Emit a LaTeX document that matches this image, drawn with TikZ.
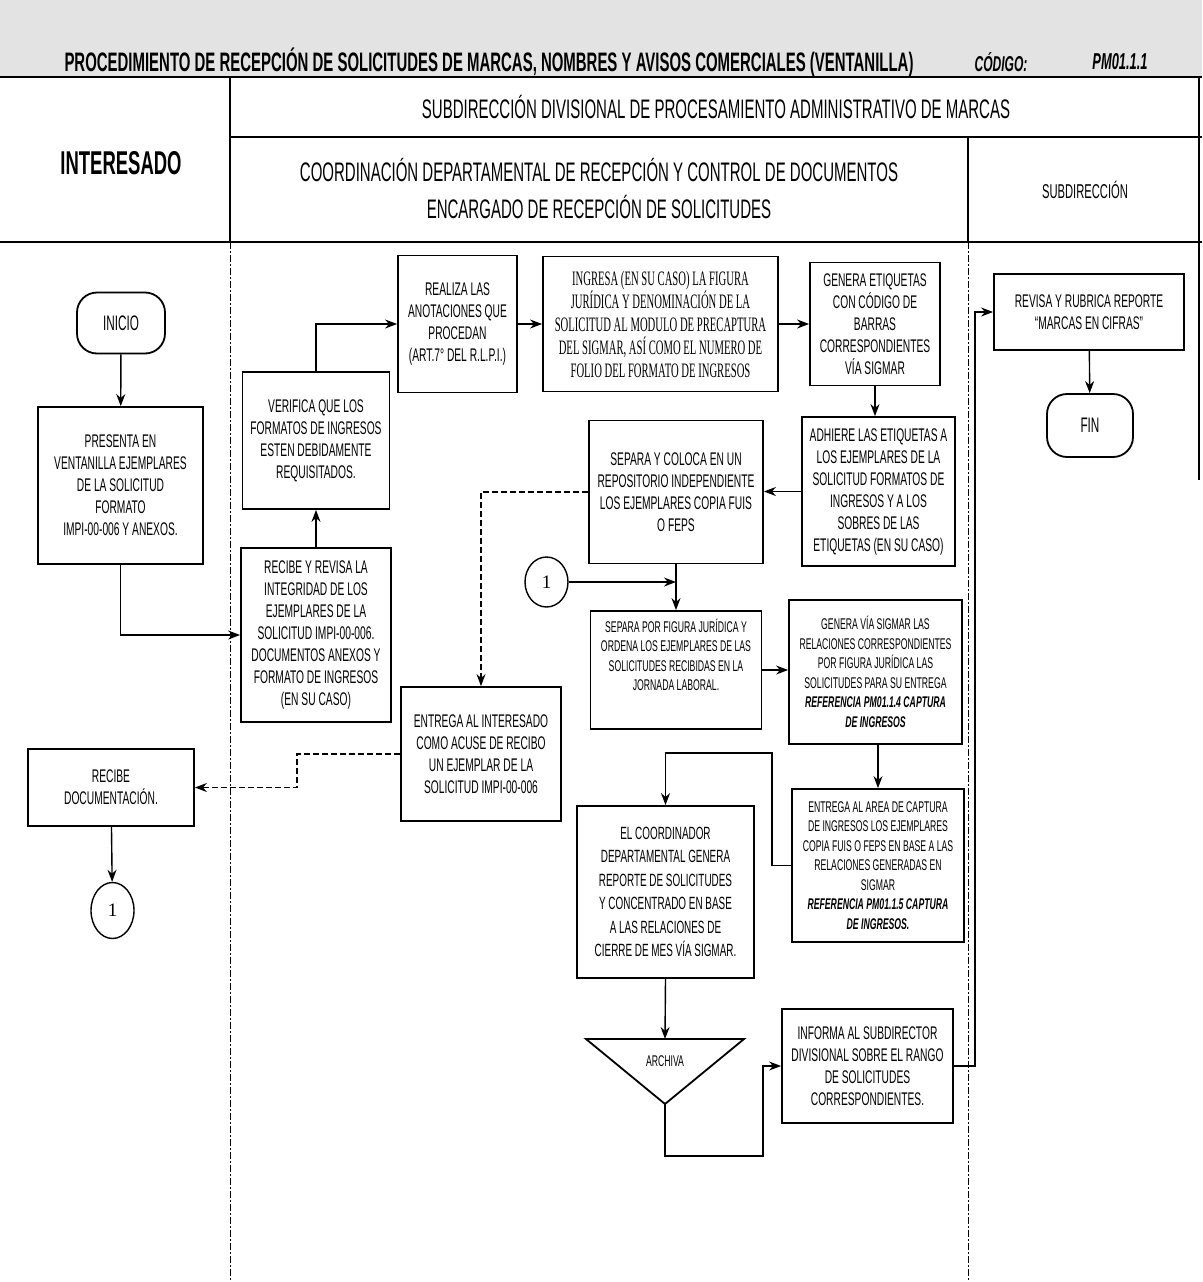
\documentclass[tikz,border=0pt]{standalone}
\usepackage{fontspec}
\setmainfont{Liberation Sans}[FakeStretch=0.56]
\newfontfamily\serifn{Liberation Serif}[FakeStretch=0.52]
\newfontfamily\numfont{Liberation Serif}
\usetikzlibrary{shapes.geometric, arrows.meta, positioning}
\tikzstyle{arrow} = [line width=1.4pt,-{Stealth[length=12pt,width=9pt]}]
\tikzstyle{dasharrow} = [arrow, dash pattern=on 6pt off 3pt]
\tikzstyle{lane} = [line width=0.9pt, dash pattern=on 7pt off 2pt on 2pt off 2pt]
\tikzstyle{proceso} = [
rectangle, draw=black, line width=1.8pt, align=center, inner sep=3pt,
font=\fontsize{18.3}{22}\selectfont
]
\tikzstyle{proceso_S} = [proceso, font=\fontsize{15.5}{19.5}\selectfont]
\tikzstyle{terminal} = [
rectangle, rounded corners=20pt, draw=black, line width=1.8pt,
font=\fontsize{21}{21}\selectfont
]
\tikzstyle{conector} = [
ellipse, draw=black, line width=1.4pt, inner sep=0pt,
minimum width=43, minimum height=56, font=\numfont\fontsize{19}{19}\selectfont
]
\tikzstyle{encabezado} = [align=center, font=\fontsize{26.8}{37}\selectfont]

\begin{document}
\begin{tikzpicture}[x=1pt, y=1pt]
	\useasboundingbox (0,0) rectangle (1202,-1282);
	% Encabezado
	\fill[gray!22] (0,0) rectangle (1202,-76);
	\draw[line width=2pt] (0,-77) -- (1202,-77);
	\draw[line width=1.6pt] (230,-137) -- (1202,-137);
	\draw[line width=2pt] (0,-242) -- (1202,-242);
	\draw[line width=1.3pt] (230,-77) -- (230,-242);
	\draw[line width=1.3pt] (968,-137) -- (968,-242);
	\draw[line width=1.6pt] (1199,-77) -- (1199,-480);
	\draw[lane] (230,-242) -- (230,-1282);
	\draw[lane] (968,-242) -- (968,-1282);

	\node (Titulo) at (489,-62) [font=\bfseries\fontsize{26.7}{26.7}\selectfont] {PROCEDIMIENTO DE RECEPCIÓN DE SOLICITUDES DE MARCAS, NOMBRES Y AVISOS COMERCIALES (VENTANILLA)};
	\node (Codigo) at (1001,-62) [font=\bfseries\itshape\fontsize{21.5}{21.5}\selectfont] {CÓDIGO:};
	\node (Clave) at (1120,-62) [font=\bfseries\itshape\fontsize{23}{23}\selectfont] {PM01.1.1};
	\node (Interesado) at (121,-163) [font=\bfseries\fontsize{33}{33}\selectfont] {INTERESADO};
	\node (Subdir_div) at (716,-107) [encabezado] {SUBDIRECCIÓN DIVISIONAL DE PROCESAMIENTO ADMINISTRATIVO DE MARCAS};
	\node (Coordinacion) at (599,-189) [encabezado] {COORDINACIÓN DEPARTAMENTAL DE RECEPCIÓN Y CONTROL DE DOCUMENTOS\\ENCARGADO DE RECEPCIÓN DE SOLICITUDES};
	\node (Subdir) at (1085,-190) [font=\fontsize{20}{20}\selectfont] {SUBDIRECCIÓN};

	% Actividades
	\node (Inicio) [terminal, minimum width=88, minimum height=61] at (121,-323) {INICIO};
	\node (Presenta) [proceso, minimum width=165, minimum height=157] at (120.5,-485.5) {PRESENTA EN\\VENTANILLA EJEMPLARES\\DE LA SOLICITUD\\FORMATO\\IMPI-00-006 Y ANEXOS.};
	\node (Recibe_revisa) [proceso, minimum width=150, minimum height=174] at (316,-635) {RECIBE Y REVISA LA\\INTEGRIDAD DE LOS\\EJEMPLARES DE LA\\SOLICITUD IMPI-00-006.\\DOCUMENTOS ANEXOS Y\\FORMATO DE INGRESOS\\(EN SU CASO)};
	\node (Verifica) [proceso, minimum width=147, minimum height=137] at (316,-440.5) {VERIFICA QUE LOS\\FORMATOS DE INGRESOS\\ESTEN DEBIDAMENTE\\REQUISITADOS.};
	\node (Realiza) [proceso, minimum width=119, minimum height=137] at (457.5,-324) {REALIZA LAS\\ANOTACIONES QUE\\PROCEDAN\\(ART.7° DEL R.L.P.I.)};
	\node (Ingresa) [proceso, minimum width=235, minimum height=135, font=\serifn\fontsize{20.5}{23}\selectfont] at (660.5,-324) {INGRESA (EN SU CASO) LA FIGURA\\JURÍDICA Y DENOMINACIÓN DE LA\\SOLICITUD AL MODULO DE PRECAPTURA\\DEL SIGMAR, ASÍ COMO EL NUMERO DE\\FOLIO DEL FORMATO DE INGRESOS};
	\node (Genera_etiq) [proceso, minimum width=130, minimum height=123] at (875,-324) {GENERA ETIQUETAS\\CON CÓDIGO DE\\BARRAS\\CORRESPONDIENTES\\VÍA SIGMAR};
	\node (Adhiere) [proceso, minimum width=153, minimum height=149] at (878.5,-491.5) {ADHIERE LAS ETIQUETAS A\\LOS EJEMPLARES DE LA\\SOLICITUD FORMATOS DE\\INGRESOS Y A LOS\\SOBRES DE LAS\\ETIQUETAS (EN SU CASO)};
	\node (Separa_coloca) [proceso, minimum width=174, minimum height=143] at (676,-492) {SEPARA Y COLOCA EN UN\\REPOSITORIO INDEPENDIENTE\\LOS EJEMPLARES COPIA FUIS\\O FEPS};
	\node (Separa_figura) [proceso_S, minimum width=171, minimum height=118, text depth=30pt] at (676,-670) {SEPARA POR FIGURA JURÍDICA Y\\ORDENA LOS EJEMPLARES DE LAS\\SOLICITUDES RECIBIDAS EN LA\\JORNADA LABORAL.};
	\node (Genera_sigmar) [proceso_S, minimum width=173, minimum height=144] at (875.5,-672) {GENERA VÍA SIGMAR LAS\\RELACIONES CORRESPONDIENTES\\POR FIGURA JURÍDICA LAS\\SOLICITUDES PARA SU ENTREGA\\{\bfseries\itshape REFERENCIA PM01.1.4 CAPTURA}\\{\bfseries\itshape DE INGRESOS}};
	\node (Entrega_area) [proceso_S, minimum width=172, minimum height=153] at (878,-865.5) {ENTREGA AL AREA DE CAPTURA\\DE INGRESOS LOS EJEMPLARES\\COPIA FUIS O FEPS EN BASE A LAS\\RELACIONES GENERADAS EN\\SIGMAR\\{\bfseries\itshape REFERENCIA PM01.1.5 CAPTURA}\\{\bfseries\itshape DE INGRESOS.}};
	\node (Coordinador) [proceso, minimum width=177, minimum height=172, font=\fontsize{17.7}{23.5}\selectfont] at (665.5,-892) {EL COORDINADOR\\DEPARTAMENTAL GENERA\\REPORTE DE SOLICITUDES\\Y CONCENTRADO EN BASE\\A LAS RELACIONES DE\\CIERRE DE MES VÍA SIGMAR.};
	\node (Entrega_int) [proceso, minimum width=160, minimum height=134] at (481,-754) {ENTREGA AL INTERESADO\\COMO ACUSE DE RECIBO\\UN EJEMPLAR DE LA\\SOLICITUD IMPI-00-006};
	\node (Recibe_doc) [proceso, minimum width=166, minimum height=77] at (111,-787.5) {RECIBE\\DOCUMENTACIÓN.};
	\node (Con_1a) [conector] at (112.5,-910.5) {1};
	\node (Con_1b) [conector, minimum height=50] at (546.5,-582) {1};
	\node (Informa) [proceso, minimum width=171, minimum height=114] at (867.5,-1066) {INFORMA AL SUBDIRECTOR\\DIVISIONAL SOBRE EL RANGO\\DE SOLICITUDES\\CORRESPONDIENTES.};
	\node (Revisa) [proceso, minimum width=190, minimum height=76] at (1089,-312) {REVISA Y RUBRICA REPORTE\\“MARCAS EN CIFRAS”};
	\node (Fin) [terminal, minimum width=86, minimum height=63] at (1090,-425.5) {FIN};

	% Archivo
	\coordinate (Arch_a) at (586,-1039);
	\coordinate (Arch_b) at (744,-1039);
	\coordinate (Arch_apex) at (665,-1104);
	\coordinate (Arch_top) at (665,-1039);
	\draw[line width=1.8pt, line join=miter] (Arch_a) -- (Arch_b) -- (Arch_apex) -- cycle;
	\node (Archiva) at (665,-1061) [font=\fontsize{15.5}{15.5}\selectfont] {ARCHIVA};

	% Conexiones
	\draw [arrow] (Inicio) -- (Presenta);
	\draw [arrow] (Presenta.south) |- (Recibe_revisa.west);
	\draw [arrow] (Recibe_revisa) -- (Verifica);
	\draw [arrow] (Verifica.north) |- (Realiza.west);
	\draw [arrow] (Realiza) -- (Ingresa);
	\draw [arrow] (Ingresa) -- (Genera_etiq);
	\draw [arrow] (Genera_etiq) -- (Genera_etiq.south |- Adhiere.north);
	\draw [arrow] (Adhiere.west) -- (Adhiere.west -| Separa_coloca.east);
	\draw [dasharrow] (Separa_coloca.west) -| (Entrega_int.north);
	\draw [arrow] (Con_1b.east) -- (Con_1b.east -| Separa_coloca.south);
	\draw [arrow] (Separa_coloca) -- (Separa_figura);
	\draw [arrow] (Separa_figura.east) -- (Separa_figura.east -| Genera_sigmar.west);
	\draw [arrow] (Genera_sigmar.south -| Entrega_area.north) -- (Entrega_area.north);
	\draw [arrow] (Entrega_area.west) -| (772,-753) -| (Coordinador.north);
	\draw [arrow] (Coordinador.south) -- (Arch_top);
	\draw [arrow] (Arch_apex) |- (763,-1156) |- (Informa.west);
	\draw [arrow] (Informa.east) -- ++(21,0) |- (Revisa.west);
	\draw [arrow] (Revisa) -- (Fin);
	\draw [dasharrow] (Entrega_int.west) -- ++(-103,0) |- (Recibe_doc.east);
	\draw [arrow] (Recibe_doc) -- (Con_1a);

\end{tikzpicture}
\end{document}
